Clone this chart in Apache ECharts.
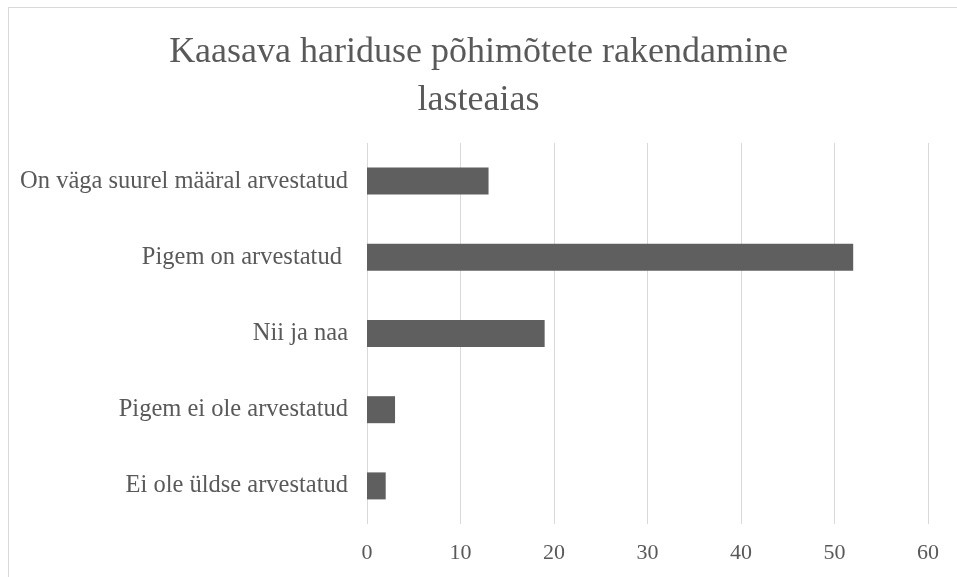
<!DOCTYPE html>
<html>
<head>
<meta charset="utf-8">
<script src="https://cdn.jsdelivr.net/npm/echarts@6/dist/echarts.min.js"></script>
<style>
  html, body { margin: 0; padding: 0; background: #fff; }
  #frame { position: absolute; left: 8px; top: 7px; width: 1000px; height: 600px; border: 1px solid #d9d9d9; }
  #main { position: absolute; left: 0; top: 0; width: 957px; height: 577px; }
</style>
</head>
<body>
<div id="frame"></div>
<div id="main"></div>
<script>
// andmed
const categories = [
  'On väga suurel määral arvestatud',
  'Pigem on arvestatud ',
  'Nii ja naa',
  'Pigem ei ole arvestatud',
  'Ei ole üldse arvestatud'
];
const values = [13, 52, 19, 3, 2];
const xTicks = [0, 60, 10]; // min, max, interval

const font = 'Liberation Serif, Times New Roman, serif';
const chart = echarts.init(document.getElementById('main'));

chart.setOption({
  animation: false,
  title: {
    text: 'Kaasava hariduse põhimõtete rakendamine\nlasteaias',
    left: 'center',
    top: 24,
    textStyle: { fontFamily: font, fontSize: 36, fontWeight: 'normal', color: '#595959', lineHeight: 48 }
  },
  grid: { left: 367, right: 29, top: 143, bottom: 53 },
  xAxis: {
    type: 'value',
    min: xTicks[0],
    max: xTicks[1],
    interval: xTicks[2],
    axisLine: { show: false },
    axisTick: { show: false },
    axisLabel: { fontFamily: font, fontSize: 22, color: '#595959', margin: 18 },
    splitLine: { lineStyle: { color: '#d9d9d9', width: 1 } }
  },
  yAxis: {
    type: 'category',
    inverse: true,
    data: categories,
    axisLine: { show: false },
    axisTick: { show: false },
    axisLabel: { fontFamily: font, fontSize: 24.5, color: '#595959', margin: 19 }
  },
  series: [{
    type: 'bar',
    data: values,
    barWidth: 27,
    itemStyle: { color: '#5f5f5f' }
  }]
});
</script>
</body>
</html>
